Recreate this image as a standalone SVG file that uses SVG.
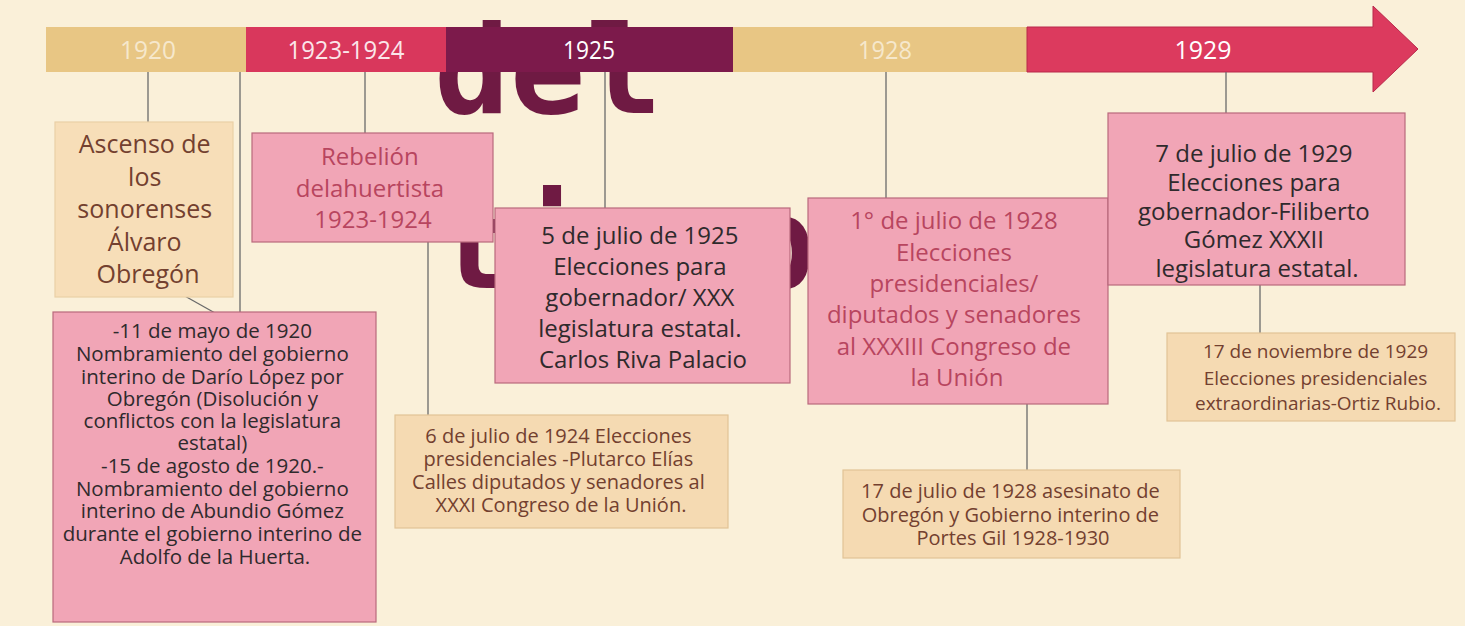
<svg xmlns="http://www.w3.org/2000/svg" width="1465" height="626" viewBox="0 0 1465 626">
<defs>
<style>
.bg{fill:#faf0d9}
.wm{font-family:"DejaVu Sans Mono",monospace;font-weight:bold;font-size:126px;fill:#6f1a43}
.yr{font-family:"Open Sans",sans-serif;font-size:25px;text-anchor:middle}
.pink{fill:#f1a5b6;stroke:#b9697c;stroke-width:1.2}
.tan{fill:#f5dab2;stroke:#e2c496;stroke-width:1.2}
.tan2{fill:#f7deb8;stroke:#ead0a6;stroke-width:1.2}
.t{font-family:"Open Sans",sans-serif;text-anchor:middle}
.big{font-size:24px}
.sm{font-size:20px}
.dark{fill:#2f2a2c}
.crim{fill:#b8455f}
.brown{fill:#73402f}
.conn line{stroke:#6a6a6a;stroke-width:1.3}
</style>
<clipPath id="clipTop"><rect x="0" y="20" width="1465" height="606"/></clipPath>
</defs>
<rect class="bg" x="0" y="0" width="1465" height="626"/>
<g id="watermark" clip-path="url(#clipTop)">
<text class="wm" x="434" y="113">del</text>
<text class="wm" x="436" y="288">tiempo</text>
</g>
<g id="timeline">
<rect x="46" y="27" width="200" height="45" fill="#e8c684"/>
<rect x="246" y="27" width="200" height="45" fill="#d9375c"/>
<rect x="446" y="27" width="287" height="45" fill="#7c1a4b"/>
<rect x="733" y="27" width="294" height="45" fill="#e8c684"/>
<path d="M1027 27 H1373 V6 L1418 49 L1373 92 V72 H1027 Z" fill="#dc3a5e" stroke="#b8284a" stroke-width="1"/>
<text class="yr" x="148" y="59" fill="#f6e8cc" textLength="56" lengthAdjust="spacingAndGlyphs">1920</text>
<text class="yr" x="346" y="59" fill="#fbe6ea" textLength="117" lengthAdjust="spacingAndGlyphs">1923-1924</text>
<text class="yr" x="589" y="59" fill="#ffffff" textLength="52" lengthAdjust="spacingAndGlyphs">1925</text>
<text class="yr" x="885" y="59" fill="#f6e8cc" textLength="54" lengthAdjust="spacingAndGlyphs">1928</text>
<text class="yr" x="1203" y="59" fill="#ffffff" textLength="57" lengthAdjust="spacingAndGlyphs">1929</text>
</g>
<g id="connectors" class="conn">
<line x1="148" y1="72" x2="148" y2="122"/>
<line x1="240" y1="72" x2="240" y2="312"/>
<line x1="365" y1="72" x2="365" y2="133"/>
<line x1="428" y1="242" x2="428" y2="415"/>
<line x1="605" y1="72" x2="605" y2="208"/>
<line x1="886" y1="72" x2="886" y2="198"/>
<line x1="1027" y1="404" x2="1027" y2="470"/>
<line x1="1226" y1="72" x2="1226" y2="113"/>
<line x1="1260" y1="285" x2="1260" y2="333"/>
<line x1="183" y1="295" x2="215" y2="313"/>
</g>
<g id="n-ascenso">
<rect class="tan2" x="55" y="122" width="178" height="175"/>
<text class="t brown" font-size="25">
<tspan x="148" y="153">Ascenso de</tspan>
<tspan x="148" y="185.5">los</tspan>
<tspan x="148" y="218">sonorenses</tspan>
<tspan x="148" y="250.5">Álvaro</tspan>
<tspan x="148" y="283">Obregón</tspan>
</text>
</g>
<g id="n-mayo1920">
<rect class="pink" x="53" y="312" width="323" height="310"/>
<text class="t dark" font-size="20.5">
<tspan x="215" y="338">-11 de mayo de 1920</tspan>
<tspan x="215" y="361">Nombramiento del gobierno</tspan>
<tspan x="215" y="384">interino de Darío López por</tspan>
<tspan x="215" y="406">Obregón (Disolución y</tspan>
<tspan x="215" y="428">conflictos con la legislatura</tspan>
<tspan x="215" y="450">estatal)</tspan>
<tspan x="215" y="473">-15 de agosto de 1920.-</tspan>
<tspan x="215" y="496">Nombramiento del gobierno</tspan>
<tspan x="215" y="518">interino de Abundio Gómez</tspan>
<tspan x="215" y="541">durante el gobierno interino de</tspan>
<tspan x="215" y="564">Adolfo de la  Huerta.</tspan>
</text>
</g>
<g id="n-rebelion">
<rect class="pink" x="252" y="133" width="241" height="109"/>
<text class="t big crim">
<tspan x="373" y="165">Rebelión</tspan>
<tspan x="373" y="197">delahuertista</tspan>
<tspan x="373" y="228">1923-1924</tspan>
</text>
</g>
<g id="n-julio1924">
<rect class="tan" x="395" y="415" width="333" height="113"/>
<text class="t sm brown">
<tspan x="561" y="443">6 de julio de 1924 Elecciones</tspan>
<tspan x="561" y="466">presidenciales -Plutarco Elías</tspan>
<tspan x="561" y="489">Calles diputados y senadores al</tspan>
<tspan x="561" y="512">XXXI Congreso de la Unión.</tspan>
</text>
</g>
<g id="n-julio1925">
<rect class="pink" x="495" y="208" width="295" height="175"/>
<text class="t big dark">
<tspan x="643" y="244">5 de julio de 1925</tspan>
<tspan x="643" y="275">Elecciones para</tspan>
<tspan x="643" y="306">gobernador/ XXX</tspan>
<tspan x="643" y="337">legislatura estatal.</tspan>
<tspan x="643" y="368">Carlos Riva Palacio</tspan>
</text>
</g>
<g id="n-julio1928">
<rect class="pink" x="808" y="198" width="300" height="206"/>
<text class="t big crim">
<tspan x="957" y="229">1° de julio de 1928</tspan>
<tspan x="957" y="261">Elecciones</tspan>
<tspan x="957" y="292">presidenciales/</tspan>
<tspan x="957" y="323">diputados y senadores</tspan>
<tspan x="957" y="355">al XXXIII Congreso de</tspan>
<tspan x="957" y="386">la Unión</tspan>
</text>
</g>
<g id="n-asesinato1928">
<rect class="tan" x="843" y="470" width="337" height="88"/>
<text class="t sm brown">
<tspan x="1013" y="498">17 de julio de 1928 asesinato de</tspan>
<tspan x="1013" y="522">Obregón y Gobierno interino de</tspan>
<tspan x="1013" y="545">Portes Gil 1928-1930</tspan>
</text>
</g>
<g id="n-julio1929">
<rect class="pink" x="1108" y="113" width="297" height="172"/>
<text class="t big dark">
<tspan x="1257" y="162">7 de julio de 1929</tspan>
<tspan x="1257" y="191">Elecciones para</tspan>
<tspan x="1257" y="220">gobernador-Filiberto</tspan>
<tspan x="1257" y="248">Gómez XXXII</tspan>
<tspan x="1257" y="277">legislatura estatal.</tspan>
</text>
</g>
<g id="n-nov1929">
<rect class="tan" x="1167" y="333" width="288" height="88"/>
<text class="t brown" font-size="19">
<tspan x="1318" y="358">17 de noviembre de 1929</tspan>
<tspan x="1318" y="385">Elecciones  presidenciales</tspan>
<tspan x="1318" y="410">extraordinarias-Ortiz Rubio.</tspan>
</text>
</g>
</svg>
